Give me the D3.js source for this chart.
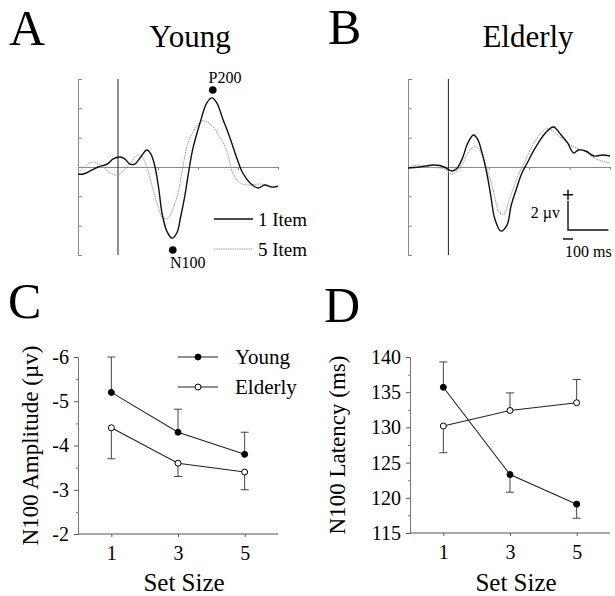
<!DOCTYPE html>
<html>
<head>
<meta charset="utf-8">
<script src="https://cdn.jsdelivr.net/npm/d3@7"></script>
<style>
  html, body { margin: 0; padding: 0; background: #fff; }
  svg { display: block; }
  text { font-family: "Liberation Serif", "Times New Roman", serif; fill: #000; }
</style>
</head>
<body>
<svg id="chart" width="615" height="596"></svg>
<script>
// ---------------- DATA ----------------
// ERP waveforms: [time (ms), amplitude (µV)]
const youngItem1 = [[-100,-0.48],[-87,-0.48],[-65,-0.2],[-50,0],[-27,0.2],[-12,0.55],[5,0.68],[17,0.55],[30,0.2],[42,0.2],[55,0.61],[72,1.16],[82,0.89],[92,0.07],[102,-1.5],[110,-3.14],[122,-4.37],[135,-4.85],[147,-4.5],[157,-3.34],[167,-1.98],[175,-0.61],[187,1.23],[205,3.0],[222,4.37],[235,4.71],[247,4.37],[262,3.28],[280,1.98],[297,0.61],[312,-0.41],[330,-1.09],[350,-1.43],[367,-1.23],[385,-1.37],[400,-1.3]];
const youngItem5 = [[-100,-0.41],[-82,0.07],[-62,0.34],[-40,0.07],[-20,-0.41],[0,-0.55],[17,-0.14],[35,0.41],[50,0.82],[62,0.61],[75,-0.27],[87,-1.5],[100,-2.66],[112,-3.48],[125,-3.48],[137,-2.87],[150,-1.77],[162,0],[175,1.64],[192,2.59],[210,3.14],[230,2.94],[250,2.25],[272,1.09],[287,-0.41],[305,-1.09],[330,-1.23],[355,-1.16],[380,-1.3],[400,-1.43]];
const elderlyItem1 = [[-100,-0.07],[-72,0],[-35,0.14],[-10,0],[-2,-0.14],[10,-0.27],[22,-0.07],[35,0.61],[47,1.57],[62,2.18],[72,1.91],[82,1.09],[95,-0.41],[105,-1.98],[115,-3.55],[130,-4.37],[145,-3.96],[155,-2.66],[165,-1.77],[182,-0.41],[195,0.27],[215,1.3],[240,2.32],[260,2.73],[277,2.25],[295,1.64],[310,0.96],[322,1.16],[340,1.09],[360,0.75],[382,0.82],[400,0.75]];
const elderlyItem5 = [[-100,-0.07],[-77,0.14],[-47,0],[-10,-0.14],[10,-0.48],[32,0.07],[47,0.89],[65,1.43],[77,1.16],[95,-0.07],[110,-1.5],[127,-3.14],[137,-3.21],[152,-2.12],[172,-0.61],[190,0.41],[215,1.77],[240,2.59],[257,2.46],[282,1.91],[307,1.43],[340,1.02],[365,0.55],[400,0.27]];
const waveTimeTicks = [-100, 0, 100, 200, 300, 400];
const waveAmpTicks = [-6, -4, -2, 0, 2, 4, 6];
const peakN100 = [137, -5.66];   // marker position (time, µV)
const peakP200 = [237, 5.25];

// Set-size panels
const setSizes = [1, 3, 5];
const ampYoung = [-5.2, -4.3, -3.8];
const ampYoungErr = [0.8, 0.52, 0.5];
const ampYoungDir = [-1, -1, -1];
const ampElderly = [-4.4, -3.6, -3.4];
const ampElderlyErr = [0.7, 0.3, 0.4];
const ampElderlyDir = [1, 1, 1];
const ampTicks = [-6, -5, -4, -3, -2];
const ampMinorTicks = [-5.5, -4.5, -3.5, -2.5];

const latYoung = [135.7, 123.3, 119.1];
const latYoungErr = [3.6, 2.5, 2.0];
const latYoungDir = [1, -1, -1];
const latElderly = [130.2, 132.4, 133.5];
const latElderlyErr = [3.8, 2.5, 3.3];
const latElderlyDir = [-1, 1, 1];
const latTicks = [115, 120, 125, 130, 135, 140];
const latMinorTicks = [117.5, 122.5, 127.5, 132.5, 137.5];

// ---------------- DRAW ----------------
const svg = d3.select("#chart");
const serif = '"Liberation Serif", "Times New Roman", serif';

function label(x, y, txt, size, anchor) {
  return svg.append("text").attr("x", x).attr("y", y)
    .attr("font-size", size).attr("text-anchor", anchor || "start").text(txt);
}

// Panel letters and titles
label(9, 45, "A", 50);
label(328, 44, "B", 50);
label(8, 318, "C", 50);
label(324, 322, "D", 50);
label(190, 47, "Young", 31, "middle");
label(528, 47, "Elderly", 31, "middle");

// ---- Waveform panels ----
function wavePanel(x0, x1, s1, s5) {
  const x = d3.scaleLinear().domain([-100, 400]).range([x0, x1]);
  const y = d3.scaleLinear().domain([-6, 6]).range([255, 79]);
  const g = svg.append("g");
  const ya = g.append("g").attr("transform", `translate(${x0},0)`)
    .call(d3.axisLeft(y).tickValues(waveAmpTicks).tickSizeInner(-4).tickSizeOuter(-4).tickFormat(""));
  ya.selectAll("path,line").attr("stroke", "#8a8a8a");
  const xa = g.append("g").attr("transform", `translate(0,${y(0)})`)
    .call(d3.axisBottom(x).tickValues(waveTimeTicks.filter(t => t > 0)).tickSizeInner(3).tickSizeOuter(0).tickFormat(""));
  xa.selectAll("path,line").attr("stroke", "#8a8a8a");
  g.append("line").attr("x1", x(0)).attr("x2", x(0)).attr("y1", y(6)).attr("y2", y(-6))
    .attr("stroke", "#222").attr("stroke-width", 1);
  const line = d3.line().x(d => x(d[0])).y(d => y(d[1])).curve(d3.curveCatmullRom.alpha(0.5));
  g.append("path").datum(s5).attr("d", line).attr("fill", "none")
    .attr("stroke", "#a0a0a0").attr("stroke-width", 1).attr("stroke-dasharray", "1.5,0.8");
  g.append("path").datum(s1).attr("d", line).attr("fill", "none")
    .attr("stroke", "#111").attr("stroke-width", 1.4);
  return {x, y, g};
}

const pA = wavePanel(78, 278, youngItem1, youngItem5);
const pB = wavePanel(408, 610, elderlyItem1, elderlyItem5);

// peak markers
pA.g.append("circle").attr("cx", pA.x(peakP200[0])).attr("cy", pA.y(peakP200[1])).attr("r", 3.8).attr("fill", "#000");
label(225, 83, "P200", 16, "middle");
pA.g.append("circle").attr("cx", pA.x(peakN100[0])).attr("cy", pA.y(peakN100[1])).attr("r", 3.8).attr("fill", "#000");
label(170, 268, "N100", 16);

// legend A
svg.append("line").attr("x1", 214).attr("x2", 253).attr("y1", 219).attr("y2", 219).attr("stroke", "#111").attr("stroke-width", 1.4);
label(258, 226, "1 Item", 19);
svg.append("line").attr("x1", 214).attr("x2", 253).attr("y1", 249).attr("y2", 249).attr("stroke", "#a0a0a0").attr("stroke-width", 1).attr("stroke-dasharray", "1.5,0.8");
label(258, 256, "5 Item", 19);

// scale bar in B
{
  const sx = 568, sy = pB.y(0) + 63;
  const len2uv = pB.y(0) - pB.y(2);
  const len100 = pB.x(100) - pB.x(0);
  svg.append("path").attr("d", `M${sx},${sy - len2uv}V${sy}H${sx + len100}`)
    .attr("fill", "none").attr("stroke", "#111").attr("stroke-width", 1.4);
  // plus sign
  const py = sy - len2uv - 6;
  svg.append("path").attr("d", `M${sx - 5},${py}H${sx + 5}M${sx},${py - 5}V${py + 5}`)
    .attr("stroke", "#111").attr("stroke-width", 1.5).attr("fill", "none");
  // minus sign
  svg.append("line").attr("x1", sx - 5).attr("x2", sx + 5).attr("y1", sy + 9).attr("y2", sy + 9).attr("stroke", "#111").attr("stroke-width", 1.5);
  label(560, 218, "2 µv", 16, "end");
  label(565, 257, "100 ms", 16);
}

// ---- Set size panels ----
function setPanel(x0, x1, domainY, rangeY, ticks, minor, fmt, series, ylabel, yLabelX) {
  const x = d3.scaleLinear().domain([0, 6]).range([x0, x1]);
  const y = d3.scaleLinear().domain(domainY).range(rangeY);
  const g = svg.append("g");
  const ya = g.append("g").attr("transform", `translate(${x0},0)`)
    .call(d3.axisLeft(y).tickValues(ticks).tickSizeInner(4).tickSizeOuter(0).tickPadding(5).tickFormat(fmt));
  g.append("g").attr("transform", `translate(${x0},0)`)
    .call(d3.axisLeft(y).tickValues(minor).tickSizeInner(2).tickSizeOuter(0).tickFormat(""))
    .selectAll("path,line").attr("stroke", "#777");
  ya.selectAll("path,line").attr("stroke", "#555");
  ya.selectAll("text").attr("font-family", serif).attr("font-size", 20).attr("fill", "#000");
  const xa = g.append("g").attr("transform", `translate(0,${rangeY[0]})`)
    .call(d3.axisBottom(x).tickValues(setSizes).tickFormat(d3.format("d")).tickSizeInner(3).tickSizeOuter(0).tickPadding(9));
  xa.select(".domain").attr("d", `M${x0},0H${x1}`);
  xa.selectAll("path,line").attr("stroke", "#555");
  xa.selectAll("text").attr("font-family", serif).attr("font-size", 20).attr("fill", "#000");

  const line = d3.line().x((d, i) => x(setSizes[i])).y(d => y(d));
  series.forEach(s => {
    s.values.forEach((v, i) => {
      const tip = v + s.dir[i] * s.err[i];
      g.append("line").attr("x1", x(setSizes[i])).attr("x2", x(setSizes[i]))
        .attr("y1", y(v)).attr("y2", y(tip)).attr("stroke", "#444").attr("stroke-width", 1);
      g.append("line").attr("x1", x(setSizes[i]) - 4).attr("x2", x(setSizes[i]) + 4)
        .attr("y1", y(tip)).attr("y2", y(tip)).attr("stroke", "#444").attr("stroke-width", 1);
    });
    g.append("path").datum(s.values).attr("d", line).attr("fill", "none").attr("stroke", "#222").attr("stroke-width", 1.1);
  });
  series.forEach(s => {
    s.values.forEach((v, i) => {
      g.append("circle").attr("cx", x(setSizes[i])).attr("cy", y(v)).attr("r", 3)
        .attr("fill", s.filled ? "#000" : "#fff").attr("stroke", "#000").attr("stroke-width", 1);
    });
  });
  svg.append("text").attr("transform", `translate(${yLabelX},${(rangeY[0] + rangeY[1]) / 2}) rotate(-90)`)
    .attr("text-anchor", "middle").attr("font-size", 23).text(ylabel);
  label(x(3) + 6, 591, "Set Size", 25, "middle");
  return {x, y, g};
}

setPanel(78, 278, [-2, -6], [534, 357], ampTicks, ampMinorTicks, d => String(d).replace("−", "-"),
  [{values: ampYoung, err: ampYoungErr, dir: ampYoungDir, filled: true},
   {values: ampElderly, err: ampElderlyErr, dir: ampElderlyDir, filled: false}],
  "N100 Amplitude (µv)", 38);

setPanel(410, 610, [115, 140], [533, 357], latTicks, latMinorTicks, d3.format("d"),
  [{values: latYoung, err: latYoungErr, dir: latYoungDir, filled: true},
   {values: latElderly, err: latElderlyErr, dir: latElderlyDir, filled: false}],
  "N100 Latency (ms)", 345);

// legend C
svg.append("line").attr("x1", 178).attr("x2", 218).attr("y1", 357).attr("y2", 357).attr("stroke", "#222").attr("stroke-width", 1.1);
svg.append("circle").attr("cx", 198).attr("cy", 357).attr("r", 3).attr("fill", "#000").attr("stroke", "#000");
label(235, 364, "Young", 21);
svg.append("line").attr("x1", 178).attr("x2", 218).attr("y1", 387).attr("y2", 387).attr("stroke", "#222").attr("stroke-width", 1.1);
svg.append("circle").attr("cx", 198).attr("cy", 387).attr("r", 3).attr("fill", "#fff").attr("stroke", "#000");
label(235, 394, "Elderly", 21);
</script>
</body>
</html>
